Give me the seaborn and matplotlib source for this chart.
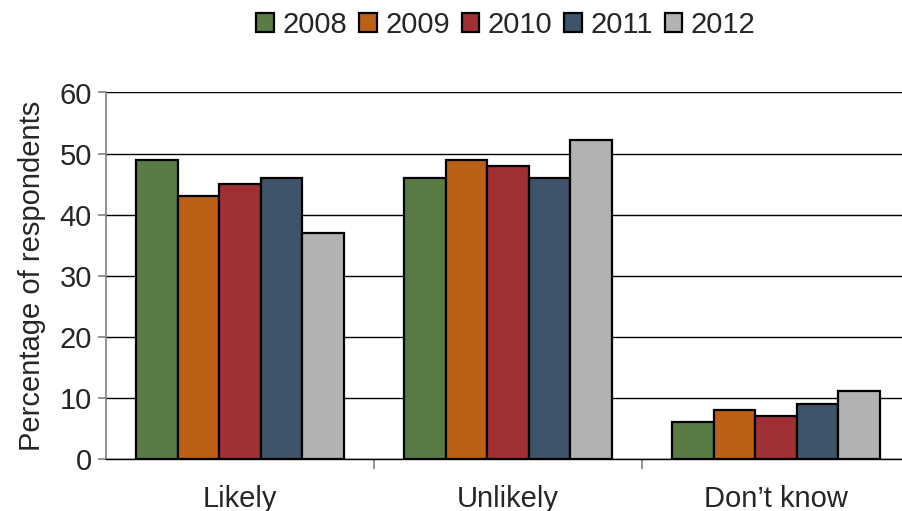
import matplotlib
matplotlib.use("Agg")
import matplotlib.pyplot as plt
import seaborn as sns
import pandas as pd

responses = ["Likely", "Unlikely", "Don\u2019t know"]
years = ["2008", "2009", "2010", "2011", "2012"]
values_2008 = [49, 46, 6]
values_2009 = [43, 49, 8]
values_2010 = [45, 48, 7]
values_2011 = [46, 46, 9]
values_2012 = [37, 52.2, 11.2]
colors = ["#587C44", "#BC6015", "#A03034", "#3F5469", "#B2B2B2"]

series = [values_2008, values_2009, values_2010, values_2011, values_2012]
rows = []
for yr, vals in zip(years, series):
    for resp, v in zip(responses, vals):
        rows.append({"response": resp, "year": yr, "pct": v})
df = pd.DataFrame(rows)

sns.set_style("white")
plt.rcParams["font.family"] = ["Liberation Sans", "DejaVu Sans"]

FS = 21

fig = plt.figure(figsize=(9.03, 5.11), dpi=100)
ax = fig.add_axes([106 / 903, 1 - 459 / 511, 804 / 903, (459 - 92.5) / 511])

sns.barplot(data=df, x="response", y="pct", hue="year", order=responses,
            hue_order=years, palette=colors, saturation=1, width=0.775, gap=0,
            edgecolor="black", linewidth=1.6, ax=ax, legend=True, zorder=3)

ax.set_ylim(0, 60)
ax.set_xlim(-0.5, 2.5)
ax.set_yticks(range(0, 61, 10))
ax.yaxis.grid(True, color="black", linewidth=1.0, zorder=0)
ax.set_axisbelow(True)

for s in ["top", "right"]:
    ax.spines[s].set_visible(False)
ax.spines["left"].set_color("#808080")
ax.spines["left"].set_linewidth(1.2)
ax.spines["bottom"].set_color("black")
ax.spines["bottom"].set_linewidth(1.0)

ax.tick_params(axis="y", which="major", left=True, length=6, width=1.2,
               color="#808080", labelsize=FS, pad=4)
ax.set_xticks([0, 1, 2])
ax.set_xticklabels(responses)
ax.tick_params(axis="x", which="major", bottom=False, length=0, labelsize=FS, pad=19)
ax.set_xticks([0.5, 1.5], minor=True)
ax.tick_params(axis="x", which="minor", bottom=True, length=7, width=1.2,
               color="#808080", direction="out")

ax.set_xlabel("")
ax.set_ylabel("Percentage of respondents", fontsize=FS, labelpad=10)

handles, labels = ax.get_legend_handles_labels()
ax.legend(handles, labels, loc="center", bbox_to_anchor=(506 / 903, 1 - 25 / 511),
          bbox_transform=fig.transFigure, ncol=5, frameon=False, fontsize=FS,
          handlelength=0.6, handleheight=0.6, handletextpad=0.3,
          columnspacing=0.4, borderaxespad=0)

fig.savefig("out.png", dpi=100)
